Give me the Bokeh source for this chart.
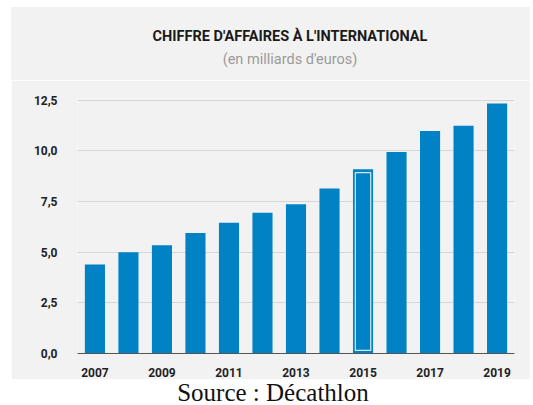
from bokeh.plotting import figure
from bokeh.models import Range1d, FixedTicker, Div, ColumnDataSource
from bokeh.layouts import column
from bokeh.embed import file_html
from bokeh.resources import INLINE

years = [2007, 2008, 2009, 2010, 2011, 2012, 2013, 2014, 2015, 2016, 2017, 2018, 2019]
values = [4.4, 5.0, 5.35, 5.95, 6.45, 6.95, 7.37, 8.15, 9.1, 9.95, 10.99, 11.24, 12.34]
highlight_year = 2015
y_ticks = [0, 2.5, 5, 7.5, 10, 12.5]
y_tick_labels = ["0,0", "2,5", "5,0", "7,5", "10,0", "12,5"]
x_ticks = [2007, 2009, 2011, 2013, 2015, 2017, 2019]
x_tick_labels = ["2007", "2009", "2011", "2013", "2015", "2017", "2019"]
title_text = "CHIFFRE D'AFFAIRES À L'INTERNATIONAL"
subtitle_text = "(en milliards d'euros)"
source_text = "Source : Décathlon"

BG = "#f2f2f2"
BLUE = "#0082c4"

header = Div(text=(
    '<div style="width:519px;height:73px;background:' + BG + ';box-sizing:border-box;'
    'padding-top:21px;padding-left:39px;text-align:center;white-space:nowrap">'
    '<div style="font-family:\'Liberation Sans Narrow\',Roboto,sans-serif;font-weight:bold;'
    'font-size:14.5px;line-height:18px;color:#1a1a1a">' + title_text + '</div>'
    '<div style="font-family:Roboto,sans-serif;font-size:14.5px;line-height:18px;'
    'margin-top:5px;color:#9a9a9a">' + subtitle_text + '</div></div>'),
    width=519, height=73, margin=(7, 0, 0, 11), styles={"background-color": BG})

p = figure(width=519, height=299, output_backend="svg", toolbar_location=None,
           title=None, x_range=Range1d(2006.48, 2019.52), y_range=Range1d(0, 12.59),
           min_border_left=66, min_border_right=16, min_border_top=18, min_border_bottom=25)
p.margin = (0, 0, 0, 11)
p.background_fill_color = BG
p.border_fill_color = BG
p.outline_line_color = None

src = ColumnDataSource(dict(year=years, value=values))
p.vbar(x="year", top="value", width=0.6, source=src, fill_color=BLUE, line_color=None)

hv = values[years.index(highlight_year)]
p.vbar(x=[highlight_year], top=[hv - 0.17], bottom=[0.15], width=0.46,
       fill_color=None, line_color="#d2e8f6", line_width=1.2)

yax = p.yaxis[0]
yax.ticker = FixedTicker(ticks=y_ticks)
yax.major_label_overrides = {t: l for t, l in zip(y_ticks, y_tick_labels)}
yax.axis_line_color = None
yax.major_tick_line_color = None
yax.minor_tick_line_color = None
yax.major_label_standoff = 14
yax.major_label_text_font = "Roboto"
yax.major_label_text_font_style = "bold"
yax.major_label_text_font_size = "12px"
yax.major_label_text_color = "#222222"

xax = p.xaxis[0]
xax.ticker = FixedTicker(ticks=x_ticks)
xax.major_label_overrides = {t: l for t, l in zip(x_ticks, x_tick_labels)}
xax.axis_line_color = "#555555"
xax.axis_line_width = 1.2
xax.major_tick_line_color = None
xax.minor_tick_line_color = None
xax.major_label_standoff = 8
xax.major_label_text_font = "Roboto"
xax.major_label_text_font_style = "bold"
xax.major_label_text_font_size = "12px"
xax.major_label_text_color = "#222222"

p.xgrid.grid_line_color = None
p.ygrid.ticker = FixedTicker(ticks=y_ticks)
p.ygrid.grid_line_color = "#d6d6d6"
p.ygrid.grid_line_width = 1

footer = Div(text=('<div style="width:530px;height:26px;text-align:center;'
                   'font-family:\'Liberation Serif\',serif;font-size:25px;line-height:24px;'
                   'padding-top:2px;padding-left:16px;box-sizing:border-box;'
                   'color:#111;white-space:nowrap">' + source_text + '</div>'),
             width=530, height=26, margin=(0, 0, 0, 0))

layout = column(header, p, footer, spacing=0)
open("out.html", "w").write(file_html(layout, INLINE))
